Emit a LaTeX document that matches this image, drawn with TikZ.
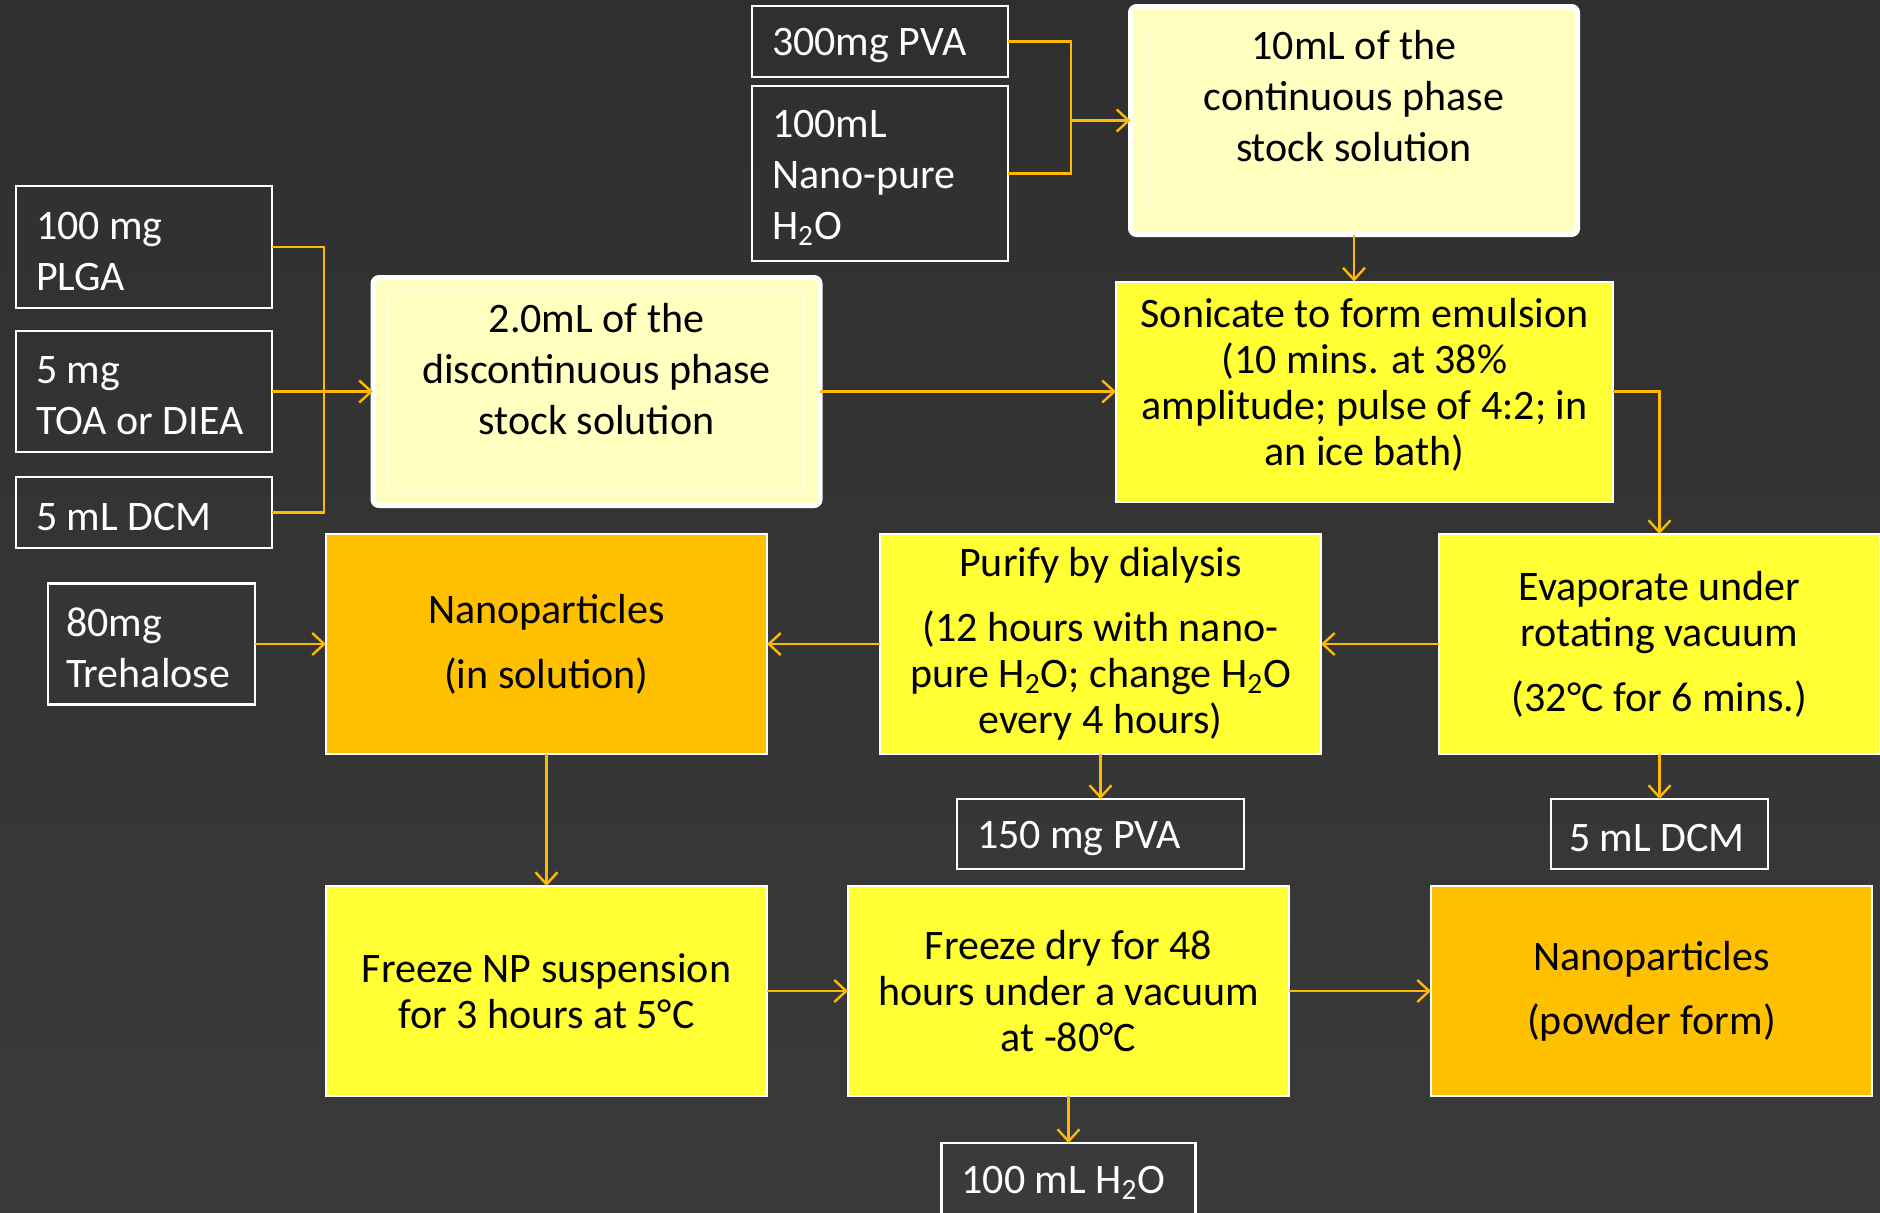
\documentclass[tikz,border=0pt]{standalone}
\usepackage{fontspec}
\setmainfont{Carlito}
\usetikzlibrary{arrows.meta, positioning}

\definecolor{slatetop}{HTML}{2F2F2F}
\definecolor{slatebottom}{HTML}{3A3A3A}
\definecolor{paleyellow}{HTML}{FFFFC0}
\definecolor{brightyellow}{HTML}{FFFF33}
\definecolor{amber}{HTML}{FFC000}
\definecolor{wire}{HTML}{FFB900}

\begin{document}
\begin{tikzpicture}[
        x=1pt, y=1pt,
        node distance=12pt and 40pt,
        every node/.style={outer sep=0pt},
        reagent/.style={rectangle, draw=white, line width=1.1pt, text=white, align=flush left, inner xsep=10pt, inner ysep=0pt, font=\fontsize{21}{25.5}\selectfont, execute at begin node={\rule{0pt}{18pt}}},
        stock/.style={rectangle, rounded corners=3pt, draw=white, line width=2.5pt, fill=paleyellow, align=center, inner ysep=2pt, minimum width=223.5pt, minimum height=114pt, font=\fontsize{21}{25.5}\selectfont},
        stockrim/.style={draw=white!60!paleyellow, line width=0.8pt},
        process/.style={rectangle, draw=white, line width=1pt, fill=brightyellow, align=center, inner ysep=2pt, minimum width=220.5pt, minimum height=110pt, font=\fontsize{21}{23}\selectfont},
        product/.style={process, fill=amber},
        link/.style={draw=wire, line width=1.2pt},
        arrow/.style={link, -{Straight Barb[length=6pt, width=11pt]}}
    ]

    % Backdrop
    \shade[top color=slatetop, bottom color=slatebottom] (0,0) rectangle (940,-606);
    \useasboundingbox (0,0) rectangle (940,-606);

    % Stock solutions
    \node[stock] (disc) at (298.25,-195.75) {2.0mL of the\\discontinuous phase\\stock solution\\[-2.5pt]};
    \node[process, minimum width=248.5pt, right=148pt of disc] (sonic) {Sonicate to form emulsion\\(10 mins. at 38\%\\amplitude; pulse of 4:2; in\\an ice bath)\\[-13pt]};
    \node[stock, above=23.5pt of sonic, xshift=-5.25pt] (cont) {10mL of the\\continuous phase\\stock solution\\[-1pt]};
    \draw[stockrim] ([shift={(8pt,-7.5pt)}]disc.north west) rectangle ([shift={(-8pt,7.5pt)}]disc.south east);
    \draw[stockrim] ([shift={(8pt,-7.5pt)}]cont.north west) rectangle ([shift={(-8pt,7.5pt)}]cont.south east);

    % Continuous phase inputs
    \node[reagent, text width=108pt, minimum height=87.5pt] (water100) at (440,-86.75) {100mL\\Nano-pure\\H\textsubscript{2}O};
    \node[reagent, text width=108pt, minimum height=35.5pt, above=4.5pt of water100] (pva300) {300mg PVA};

    % Discontinuous phase inputs
    \node[reagent, text width=108pt, minimum height=60.5pt, left=50.5pt of disc] (toa) {5 mg\\TOA or DIEA};
    \node[reagent, text width=108pt, minimum height=61pt, above=11.5pt of toa] (plga) {100 mg\\PLGA};
    \node[reagent, text width=108pt, minimum height=35.5pt, below=12.5pt of toa] (dcm5) {5 mL DCM};

    % Middle row: work-up
    \node[product] (npsol) at (273.25,-322) {Nanoparticles\\[9.5pt](in solution)};
    \node[process, right=56.5pt of npsol] (purify) {Purify by dialysis\\[9.5pt](12 hours with nano-\\pure H\textsubscript{2}O; change H\textsubscript{2}O\\every 4 hours)};
    \node[process, right=59pt of purify] (evap) {Evaporate under\\rotating vacuum\\[9.5pt](32°C for 6 mins.)};
    \node[reagent, inner xsep=9pt, text width=85.5pt, minimum height=60.5pt, left=35.5pt of npsol] (treh) {80mg\\Trehalose};

    % Removed material
    \node[reagent, text width=123.5pt, minimum height=35pt, below=22.5pt of purify] (pva150) {150 mg PVA};
    \node[reagent, inner xsep=9pt, text width=90.5pt, minimum height=35pt, below=22.5pt of evap] (dcm5b) {5 mL DCM};

    % Bottom row: drying
    \node[process, minimum height=105pt, below=66pt of npsol] (freeze) {Freeze NP suspension\\for 3 hours at 5°C};
    \node[process, minimum height=105pt, right=40.5pt of freeze] (fdry) {Freeze dry for 48\\hours under a vacuum\\at -80°C};
    \node[product, minimum height=105pt, right=71pt of fdry] (nppow) {Nanoparticles\\[8.8pt](powder form)};
    \node[reagent, text width=107pt, minimum height=35.5pt, below=23.5pt of fdry] (h2o100) {100 mL H\textsubscript{2}O};

    % Feeds into the continuous phase
    \coordinate (topbus) at ([xshift=31.5pt]pva300.east);
    \draw[link] (pva300.east) -- (topbus) |- (water100.east);
    \draw[arrow] (topbus |- cont.west) -- (cont.west);

    % Feeds into the discontinuous phase
    \coordinate (leftbus) at ([xshift=26pt]plga.east);
    \draw[link] (plga.east) -- (leftbus) |- (dcm5.east);
    \draw[arrow] (toa.east) -- (toa.east -| disc.west);

    % Emulsion and evaporation
    \draw[arrow] (disc.east) -- (disc.east -| sonic.west);
    \draw[arrow] (cont.south) -- (cont.south |- sonic.north);
    \draw[arrow] (sonic.east) -| (evap.north);
    \draw[arrow] (evap.south) -- (dcm5b.north);
    \draw[arrow] (evap.west) -- (purify.east);

    % Dialysis and collection
    \draw[arrow] (purify.south) -- (pva150.north);
    \draw[arrow] (purify.west) -- (npsol.east);
    \draw[arrow] (treh.east) -- (treh.east -| npsol.west);

    % Freezing and drying
    \draw[arrow] (npsol.south) -- (freeze.north);
    \draw[arrow] (freeze.east) -- (fdry.west);
    \draw[arrow] (fdry.east) -- (nppow.west);
    \draw[arrow] (fdry.south) -- (h2o100.north);

\end{tikzpicture}
\end{document}
